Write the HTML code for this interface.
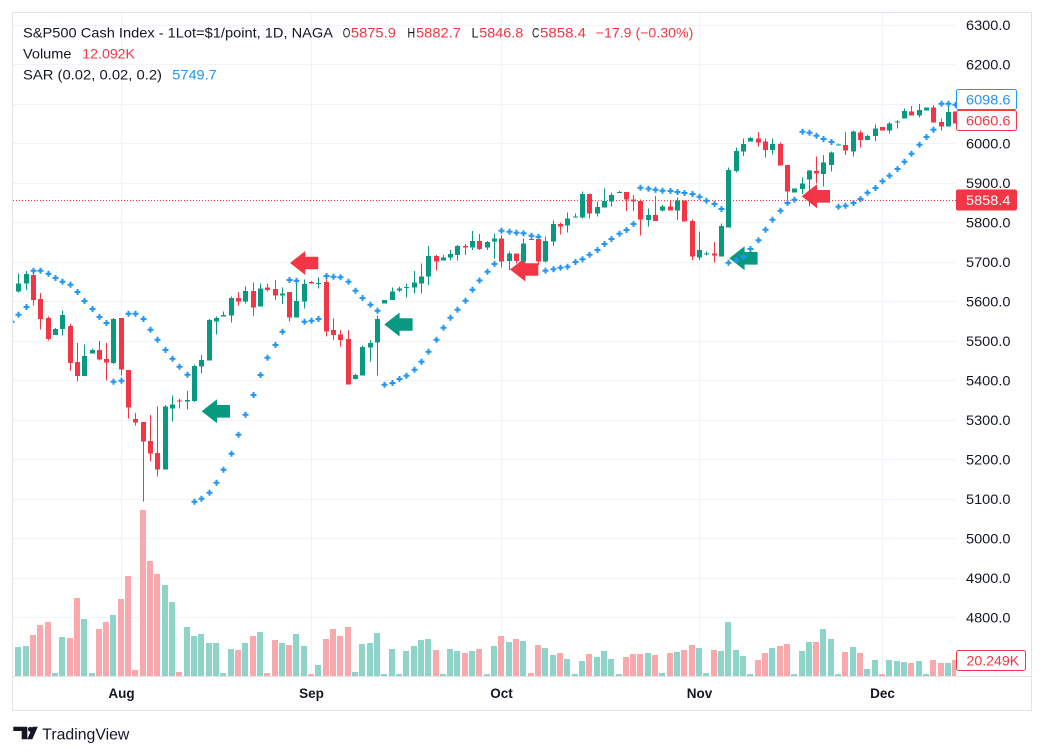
<!DOCTYPE html>
<html><head><meta charset="utf-8"><style>
html,body{margin:0;padding:0;background:#fff;}
svg{display:block;font-family:"Liberation Sans",sans-serif;}
</style></head><body>
<svg width="1044" height="755" viewBox="0 0 1044 755" xmlns="http://www.w3.org/2000/svg">
<defs>
<clipPath id="pane"><rect x="13" y="13" width="943" height="663"/></clipPath>
<path id="s" d="M-3 -1h6v2h-6zM-1 -3h2v6h-2z" fill="#2196f3"/>
</defs>
<rect width="1044" height="755" fill="#fff"/>
<!-- grid -->
<g stroke="#f0f3fa" stroke-width="1" shape-rendering="crispEdges">
<path d="M13 25.5H956M13 64.5H956M13 104.5H956M13 143.5H956M13 183.5H956M13 222.5H956M13 262.5H956M13 301.5H956M13 341.5H956M13 380.5H956M13 420.5H956M13 459.5H956M13 499.5H956M13 538.5H956M13 578.5H956M13 617.5H956"/>
<path d="M121.5 13V676M311.5 13V676M501.5 13V676M699.5 13V676M882.5 13V676"/>
</g>
<g clip-path="url(#pane)">
<!-- volume -->
<path fill="#8fd4c8" d="M15 647h6V676h-6zM23 646h6V676h-6zM52 673h6V676h-6zM59 637h6V676h-6zM81 619h6V676h-6zM89 673h6V676h-6zM110 615h6V676h-6zM162 585h6V676h-6zM169 602h6V676h-6zM184 627h6V676h-6zM191 636h6V676h-6zM198 634h6V676h-6zM206 643h6V676h-6zM213 643h6V676h-6zM220 673h6V676h-6zM228 649h6V676h-6zM242 643h6V676h-6zM257 632h6V676h-6zM279 643h6V676h-6zM293 634h6V676h-6zM301 646h6V676h-6zM315 665h6V676h-6zM352 672h6V676h-6zM359 644h6V676h-6zM367 643h6V676h-6zM374 633h6V676h-6zM381 674h6V676h-6zM389 649h6V676h-6zM396 674h6V676h-6zM403 651h6V676h-6zM411 646h6V676h-6zM418 640h6V676h-6zM425 639h6V676h-6zM440 674h6V676h-6zM447 649h6V676h-6zM454 651h6V676h-6zM469 651h6V676h-6zM484 674h6V676h-6zM491 646h6V676h-6zM506 642h6V676h-6zM520 641h6V676h-6zM542 648h6V676h-6zM550 655h6V676h-6zM564 659h6V676h-6zM572 674h6V676h-6zM579 661h6V676h-6zM594 657h6V676h-6zM601 651h6V676h-6zM608 659h6V676h-6zM616 674h6V676h-6zM645 653h6V676h-6zM659 673h6V676h-6zM674 652h6V676h-6zM696 648h6V676h-6zM703 673h6V676h-6zM718 651h6V676h-6zM725 622h6V676h-6zM733 650h6V676h-6zM740 656h6V676h-6zM747 674h6V676h-6zM769 648h6V676h-6zM791 674h6V676h-6zM799 651h6V676h-6zM806 642h6V676h-6zM820 629h6V676h-6zM828 639h6V676h-6zM835 674h6V676h-6zM850 647h6V676h-6zM864 669h6V676h-6zM872 660h6V676h-6zM886 660h6V676h-6zM894 661h6V676h-6zM901 662h6V676h-6zM916 661h6V676h-6zM923 674h6V676h-6zM945 663h6V676h-6z"/>
<path fill="#f9a9ae" d="M30 635h6V676h-6zM37 625h6V676h-6zM45 622h6V676h-6zM67 638h6V676h-6zM74 598h6V676h-6zM96 629h6V676h-6zM103 622h6V676h-6zM118 599h6V676h-6zM125 576h6V676h-6zM132 670h6V676h-6zM140 510h6V676h-6zM147 561h6V676h-6zM154 574h6V676h-6zM176 672h6V676h-6zM235 650h6V676h-6zM250 636h6V676h-6zM264 673h6V676h-6zM272 640h6V676h-6zM286 645h6V676h-6zM308 674h6V676h-6zM323 639h6V676h-6zM330 629h6V676h-6zM337 636h6V676h-6zM345 627h6V676h-6zM433 650h6V676h-6zM462 653h6V676h-6zM476 649h6V676h-6zM498 636h6V676h-6zM513 639h6V676h-6zM528 673h6V676h-6zM535 645h6V676h-6zM557 653h6V676h-6zM586 654h6V676h-6zM623 657h6V676h-6zM630 654h6V676h-6zM637 654h6V676h-6zM652 655h6V676h-6zM667 653h6V676h-6zM681 650h6V676h-6zM689 645h6V676h-6zM711 650h6V676h-6zM755 660h6V676h-6zM762 653h6V676h-6zM777 646h6V676h-6zM784 644h6V676h-6zM813 642h6V676h-6zM842 652h6V676h-6zM857 653h6V676h-6zM879 674h6V676h-6zM908 663h6V676h-6zM930 660h6V676h-6zM938 663h6V676h-6zM952 660h6V676h-6z"/>
<!-- dotted current price line -->
<path d="M13 200.5H956" stroke="#f23645" stroke-width="1" stroke-dasharray="1 2"/>
<!-- arrows -->
<g fill="#089981">
<path d="M201.7 411.3L217 399.3V405H230V417.6H217V423.3Z"/>
<path d="M384.3 324.5L399.6 312.5V318.2H412.6V330.8H399.6V336.5Z"/>
<path d="M729.3 258.3L744.6 246.3V252H757.6V264.6H744.6V270.3Z"/>
</g>
<g fill="#f23645">
<path d="M290 263L305.3 251V256.7H318.3V269.3H305.3V275Z"/>
<path d="M510 269.5L525.3 257.5V263.2H538.3V275.8H525.3V281.5Z"/>
<path d="M801.7 196.3L817 184.3V190H830V202.6H817V208.3Z"/>
</g>
<!-- candles -->
<path fill="#089981" shape-rendering="crispEdges" d="M18 273.3h1V292.7h-1zM16 283.3h5V291.7h-5zM26 271h1V290h-1zM24 274h5V283.7h-5zM55 328h1V335h-1zM53 329h5V335h-5zM62 310.7h1V335.7h-1zM60 315h5V329h-5zM84 344.3h1V376h-1zM82 356h5V376h-5zM92 348.7h1V353.7h-1zM90 350h5V353.7h-5zM113 318h1V364h-1zM111 319h5V363h-5zM165 405h1V469.7h-1zM163 406.7h5V469.7h-5zM172 395.7h1V421.7h-1zM170 404.7h5V408.7h-5zM187 391h1V409.7h-1zM185 400h5V401.7h-5zM194 364.7h1V402h-1zM192 366h5V401h-5zM201 355h1V373.7h-1zM199 360h5V366.7h-5zM209 319h1V360.7h-1zM207 320h5V360.7h-5zM216 316.3h1V334.7h-1zM214 318h5V321.7h-5zM223 311.7h1V316.7h-1zM221 315h5V316.7h-5zM231 296.7h1V322.7h-1zM229 298h5V315.7h-5zM245 286.7h1V303.3h-1zM243 291h5V301.7h-5zM260 283.7h1V306.7h-1zM258 288.3h5V306.7h-5zM282 287.7h1V304h-1zM280 293.3h5V295.7h-5zM296 280h1V317.7h-1zM294 301h5V317.7h-5zM304 279.3h1V308.7h-1zM302 284h5V301.7h-5zM318 277.3h1V288.7h-1zM316 283h5V284h-5zM355 374h1V379.7h-1zM353 375h5V379h-5zM362 345.3h1V375.7h-1zM360 347h5V375.7h-5zM370 340h1V361.7h-1zM368 343h5V347.7h-5zM377 315.3h1V375.7h-1zM375 319h5V342.7h-5zM382 300h5V303.3h-5zM392 287.3h1V300h-1zM390 291.3h5V300h-5zM399 286.7h1V292h-1zM397 288.3h5V290.7h-5zM406 283.3h1V297.3h-1zM404 287h5V288h-5zM414 271h1V293.7h-1zM412 282.7h5V287.7h-5zM421 263.3h1V293.7h-1zM419 276.7h5V283.7h-5zM428 246h1V285h-1zM426 256h5V276.7h-5zM443 255h1V260.7h-1zM441 257.3h5V260.7h-5zM450 250h1V260.7h-1zM448 254h5V257.7h-5zM457 245h1V260.7h-1zM455 246h5V255h-5zM472 231h1V250h-1zM470 241h5V247.7h-5zM487 241h1V250h-1zM485 242h5V247.7h-5zM494 233.3h1V258.3h-1zM492 238.3h5V241.7h-5zM509 251.7h1V270h-1zM507 253.3h5V261h-5zM523 238.3h1V263.3h-1zM521 243.3h5V261.7h-5zM545 236.7h1V262.7h-1zM543 241h5V261.7h-5zM553 220.7h1V246h-1zM551 224h5V241.7h-5zM567 212.7h1V232.3h-1zM565 218.3h5V225.7h-5zM575 213.3h1V217.7h-1zM573 216.7h5V217.7h-5zM582 191.7h1V218.3h-1zM580 194h5V217.7h-5zM597 201.7h1V216.7h-1zM595 207h5V213.7h-5zM604 188.3h1V207.7h-1zM602 201h5V207.7h-5zM611 192.7h1V206.7h-1zM609 195h5V201.7h-5zM619 191h1V193h-1zM617 192h5V193h-5zM648 208.3h1V226.7h-1zM646 215h5V220h-5zM662 205h1V211.7h-1zM660 206.7h5V210.7h-5zM677 197.3h1V220h-1zM675 200.7h5V210.7h-5zM699 231.7h1V260h-1zM697 250h5V257.7h-5zM706 251.7h1V255.7h-1zM704 253.3h5V254.3h-5zM721 223.3h1V256.7h-1zM719 226h5V256.7h-5zM728 167.3h1V227.7h-1zM726 170h5V227.7h-5zM736 147.7h1V172.7h-1zM734 151h5V171h-5zM743 138.3h1V156h-1zM741 144h5V151.7h-5zM750 137h1V141.7h-1zM748 138h5V141.7h-5zM772 138.3h1V154.3h-1zM770 144h5V150h-5zM792 188.3h5V192.7h-5zM802 177.3h1V194h-1zM800 183.3h5V189h-5zM809 170h1V206.7h-1zM807 170.7h5V179.3h-5zM823 155h1V186.7h-1zM821 162.7h5V174h-5zM831 151.7h1V171.7h-1zM829 152.7h5V165h-5zM838 143.3h1V145.3h-1zM836 144.3h5V145.3h-5zM853 130.7h1V156.7h-1zM851 131.7h5V151.7h-5zM867 135h1V140h-1zM865 136h5V140h-5zM875 124.7h1V141h-1zM873 128.3h5V136h-5zM889 122h1V133.3h-1zM887 123.3h5V130.7h-5zM897 120h1V128.3h-1zM895 121.3h5V122.3h-5zM904 108.3h1V118.7h-1zM902 111h5V118.7h-5zM919 104h1V117.7h-1zM917 110h5V115.7h-5zM924 107.3h5V110.7h-5zM948 105h1V126.7h-1zM946 112h5V126.7h-5z"/>
<path fill="#f23645" shape-rendering="crispEdges" d="M33 273.3h1V305.7h-1zM31 275h5V300h-5zM40 293h1V329.7h-1zM38 299h5V319h-5zM48 316.3h1V340.7h-1zM46 318h5V339h-5zM70 324h1V370.7h-1zM68 326h5V363h-5zM77 343h1V381.7h-1zM75 362h5V376h-5zM99 341h1V360.7h-1zM97 350h5V359.7h-5zM106 343h1V380.7h-1zM104 359h5V362.7h-5zM121 318h1V375.7h-1zM119 318h5V369.7h-5zM128 370h1V418.7h-1zM126 370h5V407.7h-5zM135 413h1V425.7h-1zM133 419h5V422.7h-5zM143 422h1V501.7h-1zM141 422h5V441.7h-5zM150 415h1V461.7h-1zM148 441h5V453.7h-5zM157 406.7h1V476.7h-1zM155 453h5V469.7h-5zM179 399h1V408.7h-1zM177 400.7h5V401.7h-5zM238 292h1V305.7h-1zM236 298h5V301.7h-5zM253 282.7h1V316h-1zM251 291h5V307.7h-5zM267 283.7h1V291.7h-1zM265 287.3h5V290h-5zM275 280h1V300h-1zM273 289h5V295.7h-5zM289 292h1V321.7h-1zM287 292h5V317.7h-5zM311 281h1V283.3h-1zM309 282h5V283.3h-5zM326 278.3h1V336.7h-1zM324 282h5V331.7h-5zM333 318.3h1V340h-1zM331 330h5V335h-5zM340 330h1V346.7h-1zM338 334.3h5V340h-5zM348 330h1V384.7h-1zM346 339h5V384.7h-5zM436 255h1V270.7h-1zM434 256h5V261.7h-5zM465 244h1V255h-1zM463 246h5V247.3h-5zM479 234h1V250h-1zM477 241h5V249h-5zM501 235h1V267.3h-1zM499 238.3h5V261.7h-5zM516 253.3h1V263.3h-1zM514 253.3h5V261h-5zM531 235h1V240h-1zM529 239h5V240h-5zM538 235h1V265h-1zM536 239h5V261.7h-5zM560 222.7h1V234.3h-1zM558 224h5V226.7h-5zM589 193.3h1V218.3h-1zM587 194h5V213.7h-5zM626 192h1V211h-1zM624 192h5V199.3h-5zM633 195h1V211h-1zM631 199.3h5V201.7h-5zM640 199.3h1V235.7h-1zM638 201h5V219.3h-5zM655 196h1V221h-1zM653 215h5V221h-5zM670 201h1V210.7h-1zM668 206.7h5V210.7h-5zM682 200.7h5V221.7h-5zM692 219.3h1V260h-1zM690 221h5V256.7h-5zM714 242h1V262.7h-1zM712 253.3h5V255.7h-5zM758 132h1V146.7h-1zM756 138.3h5V142.7h-5zM765 138.3h1V157.7h-1zM763 141.7h5V150h-5zM780 142.3h1V165.7h-1zM778 144h5V165.7h-5zM787 165h1V200h-1zM785 165h5V191.7h-5zM816 156.7h1V183.3h-1zM814 171h5V173.3h-5zM845 132h1V155h-1zM843 145h5V150.7h-5zM860 130.7h1V147.7h-1zM858 132.3h5V140h-5zM880 127h5V130.7h-5zM911 106h1V115.3h-1zM909 111.3h5V115.3h-5zM933 105h1V122.7h-1zM931 107.3h5V122.7h-5zM941 118.3h1V130.7h-1zM939 122h5V126.7h-5zM953 111.7h5V123.3h-5z"/>
<!-- SAR -->
<g>
<use href="#s" x="11.5" y="321.7"/><use href="#s" x="18.5" y="314.7"/><use href="#s" x="26.5" y="307"/><use href="#s" x="33.5" y="270.7"/><use href="#s" x="40.5" y="270.7"/><use href="#s" x="48.5" y="273.7"/><use href="#s" x="55.5" y="278"/><use href="#s" x="62.5" y="281.7"/><use href="#s" x="70.5" y="284.7"/><use href="#s" x="77.5" y="292"/><use href="#s" x="84.5" y="301"/><use href="#s" x="92.5" y="309"/><use href="#s" x="99.5" y="317"/><use href="#s" x="106.5" y="323"/><use href="#s" x="113.5" y="381.7"/><use href="#s" x="121.5" y="380.7"/><use href="#s" x="128.5" y="313.7"/><use href="#s" x="135.5" y="313.7"/><use href="#s" x="143.5" y="319"/><use href="#s" x="150.5" y="329.7"/><use href="#s" x="157.5" y="339.7"/><use href="#s" x="165.5" y="350"/><use href="#s" x="172.5" y="358.7"/><use href="#s" x="179.5" y="366.7"/><use href="#s" x="187.5" y="374.7"/><use href="#s" x="194.5" y="501.7"/><use href="#s" x="201.5" y="498.7"/><use href="#s" x="209.5" y="492.7"/><use href="#s" x="216.5" y="482.7"/><use href="#s" x="223.5" y="469.7"/><use href="#s" x="231.5" y="453.7"/><use href="#s" x="238.5" y="434.7"/><use href="#s" x="245.5" y="414.7"/><use href="#s" x="253.5" y="395"/><use href="#s" x="260.5" y="375"/><use href="#s" x="267.5" y="357.7"/><use href="#s" x="275.5" y="345"/><use href="#s" x="282.5" y="331.7"/><use href="#s" x="289.5" y="280"/><use href="#s" x="296.5" y="280.7"/><use href="#s" x="304.5" y="321.7"/><use href="#s" x="311.5" y="320.7"/><use href="#s" x="318.5" y="319"/><use href="#s" x="326.5" y="276"/><use href="#s" x="333.5" y="276.7"/><use href="#s" x="340.5" y="277.3"/><use href="#s" x="348.5" y="281.7"/><use href="#s" x="355.5" y="290.7"/><use href="#s" x="362.5" y="298"/><use href="#s" x="370.5" y="304.7"/><use href="#s" x="377.5" y="310.7"/><use href="#s" x="384.5" y="384.7"/><use href="#s" x="392.5" y="383"/><use href="#s" x="399.5" y="379"/><use href="#s" x="406.5" y="375.7"/><use href="#s" x="414.5" y="369.7"/><use href="#s" x="421.5" y="361.7"/><use href="#s" x="428.5" y="351.7"/><use href="#s" x="436.5" y="339.7"/><use href="#s" x="443.5" y="327.7"/><use href="#s" x="450.5" y="317.7"/><use href="#s" x="457.5" y="309.7"/><use href="#s" x="465.5" y="300.7"/><use href="#s" x="472.5" y="289.7"/><use href="#s" x="479.5" y="280.5"/><use href="#s" x="487.5" y="271.7"/><use href="#s" x="494.5" y="264"/><use href="#s" x="501.5" y="230.7"/><use href="#s" x="509.5" y="231.7"/><use href="#s" x="516.5" y="232.7"/><use href="#s" x="523.5" y="233.3"/><use href="#s" x="531.5" y="235.7"/><use href="#s" x="538.5" y="236.7"/><use href="#s" x="545.5" y="270.7"/><use href="#s" x="553.5" y="269.3"/><use href="#s" x="560.5" y="267.7"/><use href="#s" x="567.5" y="266.7"/><use href="#s" x="575.5" y="262"/><use href="#s" x="582.5" y="259.3"/><use href="#s" x="589.5" y="254.7"/><use href="#s" x="597.5" y="250"/><use href="#s" x="604.5" y="244"/><use href="#s" x="611.5" y="239"/><use href="#s" x="619.5" y="233.7"/><use href="#s" x="626.5" y="230"/><use href="#s" x="633.5" y="224"/><use href="#s" x="640.5" y="187.7"/><use href="#s" x="648.5" y="188.7"/><use href="#s" x="655.5" y="189.7"/><use href="#s" x="662.5" y="190.7"/><use href="#s" x="670.5" y="191"/><use href="#s" x="677.5" y="192"/><use href="#s" x="684.5" y="193"/><use href="#s" x="692.5" y="194"/><use href="#s" x="699.5" y="196.7"/><use href="#s" x="706.5" y="200.8"/><use href="#s" x="714.5" y="204"/><use href="#s" x="721.5" y="209"/><use href="#s" x="728.5" y="262.7"/><use href="#s" x="736.5" y="260.3"/><use href="#s" x="743.5" y="256.7"/><use href="#s" x="750.5" y="249"/><use href="#s" x="758.5" y="240.3"/><use href="#s" x="765.5" y="229.7"/><use href="#s" x="772.5" y="219.7"/><use href="#s" x="780.5" y="210.7"/><use href="#s" x="787.5" y="203"/><use href="#s" x="794.5" y="199.7"/><use href="#s" x="802.5" y="131.7"/><use href="#s" x="809.5" y="132.7"/><use href="#s" x="816.5" y="135.7"/><use href="#s" x="823.5" y="139"/><use href="#s" x="831.5" y="142"/><use href="#s" x="838.5" y="206.7"/><use href="#s" x="845.5" y="205.7"/><use href="#s" x="853.5" y="203"/><use href="#s" x="860.5" y="199"/><use href="#s" x="867.5" y="192.7"/><use href="#s" x="875.5" y="188"/><use href="#s" x="882.5" y="181.3"/><use href="#s" x="889.5" y="175.7"/><use href="#s" x="897.5" y="169"/><use href="#s" x="904.5" y="161.7"/><use href="#s" x="911.5" y="153.7"/><use href="#s" x="919.5" y="144.7"/><use href="#s" x="926.5" y="137"/><use href="#s" x="933.5" y="129.7"/><use href="#s" x="941.5" y="103.7"/><use href="#s" x="948.5" y="103.7"/><use href="#s" x="955.5" y="104.7"/>
</g>
</g>
<!-- frame -->
<rect x="12.5" y="12.5" width="1019" height="698" fill="none" stroke="#e0e3eb" stroke-width="1"/>
<path d="M13 676.5H1031" stroke="#e0e3eb" stroke-width="1"/>
<!-- legend -->
<g font-size="14" fill="#131722">
<text x="23" y="37.5" textLength="310" lengthAdjust="spacingAndGlyphs">S&amp;P500 Cash Index - 1Lot=$1/point, 1D, NAGA</text>
<text x="342.8" y="37.5" textLength="7.6" lengthAdjust="spacingAndGlyphs">O</text><text x="350.9" y="37.5" fill="#f23645" textLength="45" lengthAdjust="spacingAndGlyphs">5875.9</text>
<text x="407.4" y="37.5" textLength="7.8" lengthAdjust="spacingAndGlyphs">H</text><text x="416" y="37.5" fill="#f23645" textLength="45" lengthAdjust="spacingAndGlyphs">5882.7</text>
<text x="471.5" y="37.5" textLength="7" lengthAdjust="spacingAndGlyphs">L</text><text x="479.3" y="37.5" fill="#f23645" textLength="44" lengthAdjust="spacingAndGlyphs">5846.8</text>
<text x="532" y="37.5" textLength="7.3" lengthAdjust="spacingAndGlyphs">C</text><text x="540" y="37.5" fill="#f23645" textLength="46" lengthAdjust="spacingAndGlyphs">5858.4</text>
<text x="595.7" y="37.5" fill="#f23645" textLength="97.6" lengthAdjust="spacingAndGlyphs">−17.9 (−0.30%)</text>
<text x="23" y="58.3" textLength="48.4" lengthAdjust="spacingAndGlyphs">Volume</text>
<text x="82.3" y="58.3" fill="#f23645" textLength="52.7" lengthAdjust="spacingAndGlyphs">12.092K</text>
<text x="23" y="79.3" textLength="139" lengthAdjust="spacingAndGlyphs">SAR (0.02, 0.02, 0.2)</text>
<text x="172.3" y="79.3" fill="#2196f3" textLength="44.4" lengthAdjust="spacingAndGlyphs">5749.7</text>
</g>
<!-- price axis -->
<g font-size="14" fill="#131722">
<text x="966" y="30" textLength="44.5" lengthAdjust="spacingAndGlyphs">6300.0</text>
<text x="966" y="69.5" textLength="44.5" lengthAdjust="spacingAndGlyphs">6200.0</text>
<text x="966" y="148.5" textLength="44.5" lengthAdjust="spacingAndGlyphs">6000.0</text>
<text x="966" y="188" textLength="44.5" lengthAdjust="spacingAndGlyphs">5900.0</text>
<text x="966" y="227.5" textLength="44.5" lengthAdjust="spacingAndGlyphs">5800.0</text>
<text x="966" y="267" textLength="44.5" lengthAdjust="spacingAndGlyphs">5700.0</text>
<text x="966" y="306.5" textLength="44.5" lengthAdjust="spacingAndGlyphs">5600.0</text>
<text x="966" y="346" textLength="44.5" lengthAdjust="spacingAndGlyphs">5500.0</text>
<text x="966" y="385.5" textLength="44.5" lengthAdjust="spacingAndGlyphs">5400.0</text>
<text x="966" y="425" textLength="44.5" lengthAdjust="spacingAndGlyphs">5300.0</text>
<text x="966" y="464.5" textLength="44.5" lengthAdjust="spacingAndGlyphs">5200.0</text>
<text x="966" y="504" textLength="44.5" lengthAdjust="spacingAndGlyphs">5100.0</text>
<text x="966" y="543.5" textLength="44.5" lengthAdjust="spacingAndGlyphs">5000.0</text>
<text x="966" y="583" textLength="44.5" lengthAdjust="spacingAndGlyphs">4900.0</text>
<text x="966" y="622.5" textLength="44.5" lengthAdjust="spacingAndGlyphs">4800.0</text>
</g>
<rect x="956.5" y="89.5" width="60" height="20" rx="2" fill="#fff" stroke="#2196f3"/>
<text x="966" y="104.5" font-size="14" fill="#2196f3" textLength="44.5" lengthAdjust="spacingAndGlyphs">6098.6</text>
<rect x="956.5" y="110.5" width="60" height="20" rx="2" fill="#fff" stroke="#f23645"/>
<text x="966" y="125.5" font-size="14" fill="#f23645" textLength="44.5" lengthAdjust="spacingAndGlyphs">6060.6</text>
<rect x="956" y="189.5" width="61" height="21" rx="2" fill="#f23645"/>
<text x="966" y="205" font-size="14" fill="#fff" textLength="44.5" lengthAdjust="spacingAndGlyphs">5858.4</text>
<rect x="956.5" y="650.5" width="69" height="20" rx="2" fill="#fff" stroke="#f23645"/>
<text x="966.5" y="665.5" font-size="14" fill="#f23645" textLength="52.7" lengthAdjust="spacingAndGlyphs">20.249K</text>
<!-- time axis -->
<g font-size="13.5" font-weight="bold" fill="#131722" text-anchor="middle">
<text x="121.5" y="698">Aug</text>
<text x="311.5" y="698">Sep</text>
<text x="501.5" y="698">Oct</text>
<text x="699.5" y="698">Nov</text>
<text x="882.5" y="698">Dec</text>
</g>
<!-- TradingView logo -->
<g fill="#131722">
<path d="M13.3 726.7H27.3V739.3H21.7V731H13.3Z"/>
<circle cx="30.3" cy="729.3" r="2.4"/>
<path d="M32.5 726.7H37.8L32.3 739.3H27.3Z"/>
<text x="42.3" y="739.3" font-size="16" textLength="87" lengthAdjust="spacingAndGlyphs">TradingView</text>
</g>
</svg>
</body></html>
